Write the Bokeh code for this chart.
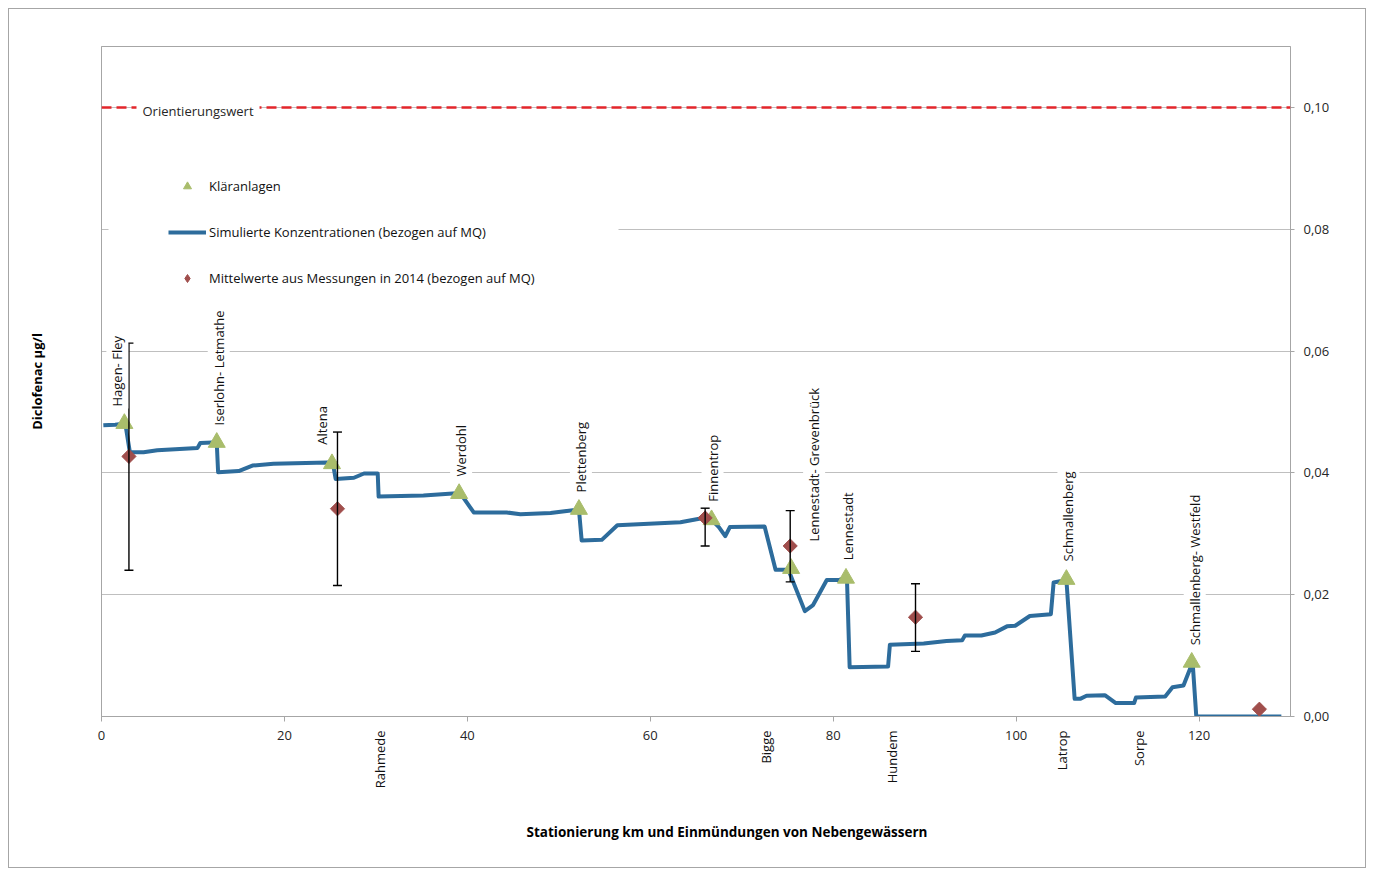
import math
from bokeh.plotting import figure
from bokeh.models import (Range1d, LinearAxis, FixedTicker, CustomJSTickFormatter, Span, Label,
                          Legend, LegendItem, Whisker, TeeHead, ColumnDataSource, BoxAnnotation, Title)
from bokeh.embed import file_html
from bokeh.resources import INLINE

FONT = "Open Sans"

# ---------------- data ----------------
sim_km = [0.2, 1.5, 2.6, 3.1, 4.6, 6.1, 10.5, 10.8, 12.1, 12.6, 12.75, 15.0, 16.5, 18.8, 24.7, 25.3,
          25.6, 27.6, 28.7, 30.2, 30.3, 35.2, 39.2, 40.7, 42.5, 44.3, 45.8, 49.1, 52.2, 52.5, 54.7,
          56.4, 63.3, 65.8, 66.7, 67.5, 68.2, 68.7, 72.5, 73.7, 75.1, 76.9, 77.8, 79.3, 80.6, 81.5,
          81.8, 86.0, 86.2, 89.9, 92.4, 94.1, 94.4, 96.2, 97.7, 99.0, 99.9, 101.5, 103.8, 104.1,
          105.5, 106.4, 107.0, 107.7, 109.7, 110.9, 112.9, 113.1, 116.3, 117.1, 118.3, 119.3,
          119.7, 129.0]
sim_val = [0.0478, 0.0479, 0.0481, 0.0434, 0.0434, 0.0437, 0.0441, 0.0449, 0.0450, 0.0450, 0.0401,
           0.0403, 0.0412, 0.0415, 0.0417, 0.0416, 0.0390, 0.0392, 0.0399, 0.0399, 0.0361, 0.0363,
           0.0367, 0.0335, 0.0335, 0.0335, 0.0332, 0.0334, 0.0340, 0.0289, 0.0290, 0.0314, 0.0319,
           0.0326, 0.0323, 0.0311, 0.0296, 0.0311, 0.0312, 0.0241, 0.0241, 0.0173, 0.0183, 0.0224,
           0.0224, 0.0229, 0.0081, 0.0082, 0.0118, 0.0120, 0.0124, 0.0125, 0.0133, 0.0133, 0.0138,
           0.0148, 0.0149, 0.0165, 0.0168, 0.0220, 0.0224, 0.0029, 0.0029, 0.0034, 0.0035, 0.0022,
           0.0022, 0.0031, 0.0033, 0.0048, 0.0051, 0.0089, 0.0, 0.0]

kl_names = ["Hagen- Fley", "Iserlohn- Letmathe", "Altena", "Werdohl", "Plettenberg", "Finnentrop",
            "Lennestadt- Grevenbrück", "Lennestadt", "Schmallenberg", "Schmallenberg- Westfeld"]
kl_km = [2.5, 12.6, 25.2, 39.1, 52.2, 66.7, 75.4, 81.4, 105.5, 119.2]
kl_val = [0.0481, 0.0450, 0.0415, 0.0366, 0.0340, 0.0323, 0.0243, 0.0227, 0.0225, 0.0089]

mw_km = [3.0, 25.8, 66.0, 75.3, 89.0, 126.6]
mw_val = [0.0427, 0.0341, 0.0326, 0.0280, 0.0163, 0.0012]
mw_hi = [0.0613, 0.0467, 0.0342, 0.0338, 0.0218, None]
mw_lo = [0.0240, 0.0215, 0.0280, 0.0221, 0.0107, None]

trib_names = ["Rahmede", "Bigge", "Hundem", "Latrop", "Sorpe"]
trib_km = [30.5, 72.7, 86.4, 105.0, 113.4]

orientierungswert = 0.10
x_ticks = [0, 20, 40, 60, 80, 100, 120]
y_ticks = [0.0, 0.02, 0.04, 0.06, 0.08, 0.10]

# label offsets (pixels) for station labels: style only
lab_dx = [-7, 2, -10, 2, 2, 1, 23, 2, 2, 3]
lab_dy = [15, 15, 17, 15, 15, 16, 25, 16, 16, 15]

# ---------------- figure ----------------
X0, X1, Y0, Y1 = 0, 130, 0, 0.11
p = figure(width=1358, height=860, x_range=Range1d(X0, X1), y_range=Range1d(Y0, Y1),
           output_backend="svg", toolbar_location=None,
           min_border_left=92, min_border_right=77, min_border_top=37, min_border_bottom=153)
p.styles = {"border": "1px solid #a6a6a6", "margin-left": "8px", "margin-top": "8px"}
p.outline_line_color = "#a6a6a6"
p.background_fill_color = "white"
p.border_fill_color = "white"

FW = 1358 - 92 - 77
FH = 860 - 37 - 153
px_y = (Y1 - Y0) / FH
px_x = (X1 - X0) / FW

axcol = "#a6a6a6"
txtcol = "#262626"

# bottom axis (km)
xa = p.xaxis[0]
xa.ticker = FixedTicker(ticks=x_ticks)
xa.axis_line_color = axcol
xa.major_tick_line_color = axcol
xa.major_tick_out = 5
xa.major_tick_in = 0
xa.minor_tick_line_color = None
xa.major_label_text_font = FONT
xa.major_label_text_font_size = "13px"
xa.major_label_text_color = txtcol
xa.major_label_standoff = 9

# tributary axis (names, vertical)
ta = LinearAxis(ticker=FixedTicker(ticks=trib_km),
                formatter=CustomJSTickFormatter(args=dict(kms=trib_km, names=trib_names),
                                                code="const i = kms.indexOf(tick); return i >= 0 ? names[i] : '';"))
ta.axis_line_color = None
ta.major_tick_line_color = None
ta.minor_tick_line_color = None
ta.major_tick_out = 0
ta.major_tick_in = 0
ta.major_label_orientation = math.pi / 2
ta.major_label_standoff = -12
ta.major_label_text_font = FONT
ta.major_label_text_font_size = "13px"
ta.major_label_text_color = "#111111"
p.add_layout(ta, "below")

p.add_layout(Title(text="Stationierung km und Einmündungen von Nebengewässern", align="left",
                   offset=425, standoff=58, text_font=FONT, text_font_size="13.5px",
                   text_font_style="bold", text_color="black"), "below")

# left axis (title only)
ya = p.yaxis[0]
ya.ticker = FixedTicker(ticks=[])
ya.axis_line_color = axcol
ya.major_tick_line_color = None
ya.minor_tick_line_color = None
ya.major_label_standoff = 0
ya.axis_label = "Diclofenac µg/l"
ya.axis_label_standoff = 56
ya.axis_label_text_font = FONT
ya.axis_label_text_font_size = "13px"
ya.axis_label_text_font_style = "bold"
ya.axis_label_text_color = "black"

# right axis
ra = LinearAxis(ticker=FixedTicker(ticks=y_ticks),
                formatter=CustomJSTickFormatter(code="return tick.toFixed(2).replace('.', ',');"))
ra.axis_line_color = axcol
ra.major_tick_line_color = axcol
ra.major_tick_out = 4
ra.major_tick_in = 0
ra.minor_tick_line_color = None
ra.major_label_text_font = FONT
ra.major_label_text_font_size = "13px"
ra.major_label_text_color = txtcol
ra.major_label_standoff = 9
p.add_layout(ra, "right")

p.xgrid.visible = False
p.ygrid.ticker = FixedTicker(ticks=y_ticks)
p.ygrid.grid_line_color = "#bfbfbf"
p.ygrid.grid_line_width = 1

# legend white box (covers gridline)
p.add_layout(BoxAnnotation(left=(108 - 101) * px_x, right=(618 - 101) * px_x,
                           top=(716 - 158) * px_y, bottom=(716 - 302) * px_y,
                           fill_color="white", fill_alpha=1.0, line_alpha=0, level="underlay",
                           editable=False))

# orientation value
p.add_layout(Span(location=orientierungswert, dimension="width", line_color="#e3262b",
                  line_width=2.5, line_dash="10 5"))
p.add_layout(Label(x=35 * px_x, y=orientierungswert, text="Orientierungswert",
                   text_font=FONT, text_font_size="13px", text_color=txtcol,
                   text_align="left", text_baseline="middle", y_offset=-4,
                   background_fill_color="white", padding=6))

# simulated line
line_r = p.line(sim_km, sim_val, line_color="#2d6c9c", line_width=4, line_join="round")

# treatment plants
tri_r = p.scatter(kl_km, kl_val, marker="triangle", size=17, fill_color="#a9bd6b",
                  line_color="#a9bd6b")

# error bars
wk = [k for k, h in zip(mw_km, mw_hi) if h is not None]
wh = [h for h in mw_hi if h is not None]
wl = [l for l in mw_lo if l is not None]
wsrc = ColumnDataSource(dict(base=wk, upper=wh, lower=wl))
p.add_layout(Whisker(source=wsrc, base="base", upper="upper", lower="lower", dimension="height",
                     line_color="black", line_width=1.4, level="glyph",
                     upper_head=TeeHead(size=9, line_color="black", line_width=1.4),
                     lower_head=TeeHead(size=9, line_color="black", line_width=1.4)))

# measurements (diamond used for the legend, covered by the rotated squares)
dia_leg = p.scatter(mw_km, mw_val, marker="diamond", size=10,
                    fill_color="#a04e4c", line_color="#a04e4c")
dia_r = p.scatter(mw_km, mw_val, marker="square", size=10, angle=math.pi / 4,
                  fill_color="#a04e4c", line_color="#a04e4c")

# station labels
for name, k, v, dx, dy in zip(kl_names, kl_km, kl_val, lab_dx, lab_dy):
    p.add_layout(Label(x=k, y=v, text=name, x_offset=dx, y_offset=dy, angle=math.pi / 2,
                       text_font=FONT, text_font_size="13px", text_color="#111111",
                       text_align="left", text_baseline="middle",
                       background_fill_color="white", padding=2))

# legend
legend = Legend(items=[LegendItem(label="Kläranlagen", renderers=[tri_r]),
                       LegendItem(label="Simulierte Konzentrationen (bezogen auf MQ)", renderers=[line_r]),
                       LegendItem(label="Mittelwerte aus Messungen in 2014 (bezogen auf MQ)", renderers=[dia_leg])],
                location=(67, 428), orientation="vertical",
                glyph_width=38, glyph_height=20, label_height=20, label_standoff=3, spacing=26,
                padding=0, margin=0, border_line_alpha=0, background_fill_alpha=0,
                label_text_font=FONT, label_text_font_size="13px", label_text_color="#111111")
p.add_layout(legend, "center")

open("out.html", "w").write(file_html(p, INLINE))
